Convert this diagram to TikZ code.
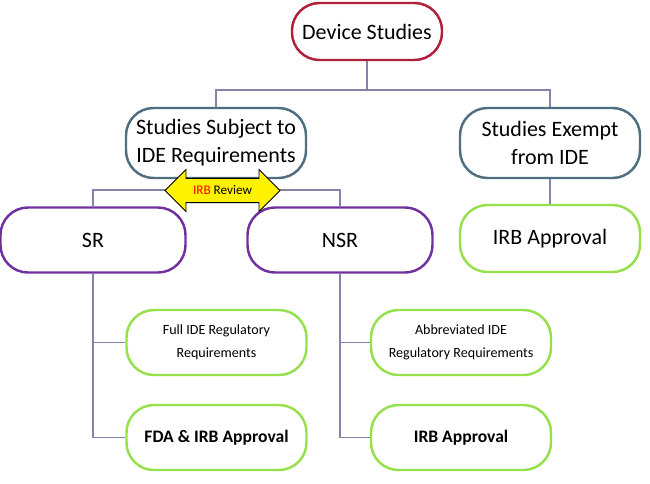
\documentclass[tikz,border=0pt]{standalone}
\usepackage{fontspec}
\setmainfont{Carlito}
\usetikzlibrary{shapes.arrows}
\definecolor{topred}{HTML}{B0203A}
\definecolor{slate}{HTML}{4F6E80}
\definecolor{purp}{HTML}{7030A0}
\definecolor{lgreen}{HTML}{96E04C}
\definecolor{link}{HTML}{8484A8}
\tikzset{
  box/.style={rectangle, draw, line width=1.4pt, rounded corners=0.55cm, fill=white, align=center, font=\fontsize{12.5}{16}\selectfont},
  big/.style={box, minimum width=3.6cm, minimum height=1.3cm},
  small/.style={box, minimum width=3.6cm, minimum height=1.3cm, font=\fontsize{8}{13}\selectfont},
  link/.style={draw=link, line width=0.6pt}
}
\begin{document}
\begin{tikzpicture}
  \useasboundingbox (0,0) rectangle (13,-9.66);
  % Nodes
  \node (dev) [big, draw=topred, minimum width=3cm, minimum height=1.14cm] at (7.34,-0.63) {Device Studies};
  \node (sub) [big, draw=slate, minimum height=1.4cm] at (4.32,-2.86) {Studies Subject to\\IDE Requirements};
  \node (exm) [big, draw=slate, minimum height=1.4cm] at (11,-2.86) {Studies Exempt\\from IDE};
  \node (sr) [big, draw=purp, minimum width=3.7cm] at (1.86,-4.8) {SR};
  \node (nsr) [big, draw=purp, minimum width=3.7cm] at (6.8,-4.8) {NSR};
  \node (irb) [big, draw=lgreen, minimum height=1.34cm] at (11,-4.77) {IRB Approval};
  \node (full) [small, draw=lgreen] at (4.33,-6.85) {Full IDE Regulatory\\Requirements};
  \node (fda) [small, draw=lgreen, font=\fontsize{10}{13}\selectfont\bfseries] at (4.33,-8.75) {FDA \& IRB Approval};
  \node (abr) [small, draw=lgreen] at (9.22,-6.85) {Abbreviated IDE\\Regulatory Requirements};
  \node (irb2) [small, draw=lgreen, font=\fontsize{10}{13}\selectfont\bfseries] at (9.22,-8.75) {IRB Approval};
  % Connectors
  \coordinate (j1) at (7.34,-1.8);
  \coordinate (j2) at (4.32,-3.8);
  \draw[link] (dev.south) -- (j1) -| (sub.north);
  \draw[link] (j1) -| (exm.north);
  \draw[link] (sub.south) -- (j2) -| (sr.north);
  \draw[link] (j2) -| (nsr.north);
  \draw[link] (exm.south) -- (irb.north);
  \draw[link] (sr.south) |- (fda.west);
  \draw[link] (sr.south |- full.west) -- (full.west);
  \draw[link] (nsr.south) |- (irb2.west);
  \draw[link] (nsr.south |- abr.west) -- (abr.west);
  % Review arrow
  \node (rev) [double arrow, draw=black, fill=yellow, line width=0.5pt, minimum width=0.84cm, double arrow head extend=0.1cm, minimum height=2.3cm, inner sep=1pt, font=\fontsize{7.5}{9}\selectfont] at (4.45,-3.81) {\textcolor{red}{IRB} Review};
\end{tikzpicture}
\end{document}
